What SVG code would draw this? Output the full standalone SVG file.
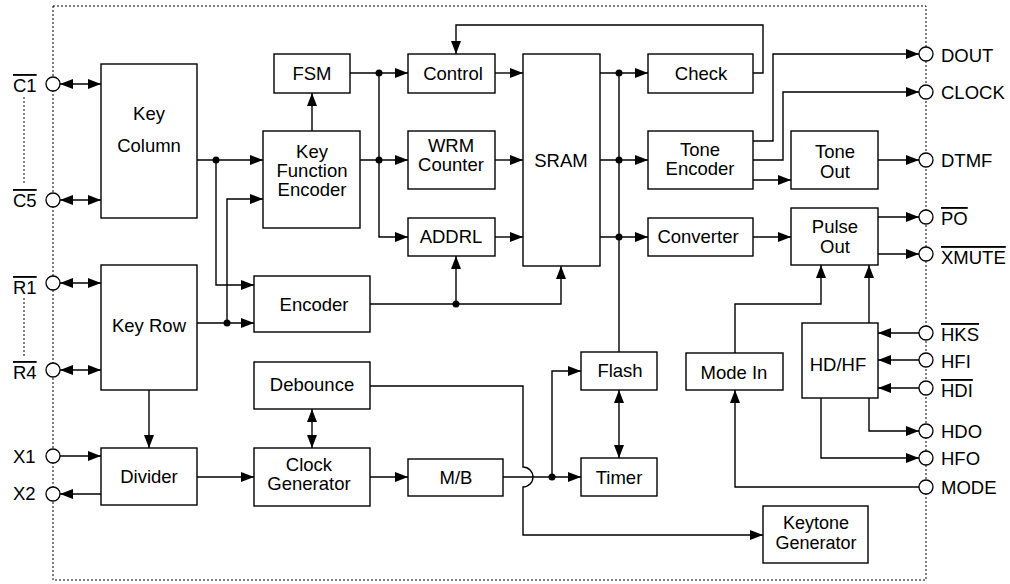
<svg xmlns="http://www.w3.org/2000/svg" width="1010" height="584" viewBox="0 0 1010 584">
<style>
.box{fill:#fff;stroke:#000;stroke-width:1.4}
.ln{fill:none;stroke:#000;stroke-width:1.4}
.a{marker-end:url(#ah)}
.d{marker-start:url(#ah);marker-end:url(#ah)}
.pin{fill:#fff;stroke:#000;stroke-width:1.3}
.dot{fill:#000}
text{font-family:"Liberation Sans",Arial,sans-serif;font-size:18.5px;fill:#000}
.c{text-anchor:middle}
.ov{text-decoration:overline}
</style>
<defs>
<marker id="ah" markerUnits="userSpaceOnUse" markerWidth="14" markerHeight="11" refX="13" refY="5.5" orient="auto-start-reverse">
<path d="M0,0.5 L13,5.5 L0,10.5 z" fill="#000"/>
</marker>
</defs>
<rect x="53" y="6" width="873" height="574" fill="none" stroke="#000" stroke-width="1" stroke-dasharray="2,2"/>
<g id="connectors">
<path class="ln d" d="M60,84 H101"/>
<path class="ln d" d="M60,200 H101"/>
<path class="ln d" d="M60,283 H101"/>
<path class="ln d" d="M60,370 H101"/>
<path class="ln a" d="M60,456 H101"/>
<path class="ln a" d="M101,494 H60"/>
<path class="ln a" d="M197,160 H263"/>
<path class="ln a" d="M216,160 V285 H254"/>
<path class="ln a" d="M197,323 H254"/>
<path class="ln a" d="M227,323 V199 H263"/>
<path class="ln a" d="M149,390 V448"/>
<path class="ln a" d="M197,477 H254"/>
<path class="ln a" d="M312,131 V93"/>
<path class="ln a" d="M350,73 H408"/>
<path class="ln a" d="M360,160 H408"/>
<path class="ln a" d="M379,73 V237 H408"/>
<path class="ln a" d="M495,73 H523"/>
<path class="ln a" d="M495,160 H523"/>
<path class="ln a" d="M495,237 H523"/>
<path class="ln a" d="M370,304 H561 V266"/>
<path class="ln a" d="M456,304 V256"/>
<path class="ln a" d="M600,73 H648"/>
<path class="ln a" d="M600,160 H648"/>
<path class="ln a" d="M600,237 H648"/>
<path class="ln" d="M619,73 V352"/>
<path class="ln a" d="M753,73 H763 V25 H456 V54"/>
<path class="ln a" d="M753,141 H773 V54 H919"/>
<path class="ln a" d="M753,160 H783 V92 H919"/>
<path class="ln a" d="M753,180 H791"/>
<path class="ln a" d="M878,160 H919"/>
<path class="ln a" d="M753,237 H791"/>
<path class="ln a" d="M878,217 H919"/>
<path class="ln a" d="M878,254 H919"/>
<path class="ln a" d="M869,323 V265"/>
<path class="ln a" d="M735,353 V304 H821 V265"/>
<path class="ln a" d="M919,333 H878"/>
<path class="ln a" d="M919,360 H878"/>
<path class="ln a" d="M919,388 H878"/>
<path class="ln a" d="M869,398 V431 H919"/>
<path class="ln a" d="M821,398 V458 H919"/>
<path class="ln a" d="M919,487 H735 V390"/>
<path class="ln d" d="M312,409 V448"/>
<path class="ln a" d="M370,477 H408"/>
<path class="ln a" d="M503,477 H581"/>
<path class="ln a" d="M552,477 V371 H581"/>
<path class="ln a" d="M370,386 H523 V467 A10,10 0 0 1 523,487 V535 H763"/>
<path class="ln d" d="M619,390 V458"/>
<circle class="dot" cx="216" cy="160" r="3.5"/>
<circle class="dot" cx="227" cy="323" r="3.5"/>
<circle class="dot" cx="379" cy="73" r="3.5"/>
<circle class="dot" cx="379" cy="160" r="3.5"/>
<circle class="dot" cx="456" cy="304" r="3.5"/>
<circle class="dot" cx="619" cy="73" r="3.5"/>
<circle class="dot" cx="619" cy="160" r="3.5"/>
<circle class="dot" cx="619" cy="237" r="3.5"/>
<circle class="dot" cx="552" cy="477" r="3.5"/>
<line x1="24" y1="97" x2="24" y2="183" stroke="#000" stroke-width="1" stroke-dasharray="2,2"/>
<line x1="24" y1="298" x2="24" y2="358" stroke="#000" stroke-width="1" stroke-dasharray="2,2"/>
</g>
<g id="pins">
<circle class="pin" cx="53" cy="84" r="7"/>
<circle class="pin" cx="53" cy="200" r="7"/>
<circle class="pin" cx="53" cy="283" r="7"/>
<circle class="pin" cx="53" cy="370" r="7"/>
<circle class="pin" cx="53" cy="456" r="7"/>
<circle class="pin" cx="53" cy="494" r="7"/>
<circle class="pin" cx="926" cy="54" r="7"/>
<circle class="pin" cx="926" cy="92" r="7"/>
<circle class="pin" cx="926" cy="160" r="7"/>
<circle class="pin" cx="926" cy="217" r="7"/>
<circle class="pin" cx="926" cy="254" r="7"/>
<circle class="pin" cx="926" cy="333" r="7"/>
<circle class="pin" cx="926" cy="360" r="7"/>
<circle class="pin" cx="926" cy="388" r="7"/>
<circle class="pin" cx="926" cy="431" r="7"/>
<circle class="pin" cx="926" cy="458" r="7"/>
<circle class="pin" cx="926" cy="487" r="7"/>
<text x="13" y="92" class="ov">C1</text>
<text x="13" y="207" class="ov">C5</text>
<text x="13" y="294" class="ov">R1</text>
<text x="13" y="379" class="ov">R4</text>
<text x="13" y="463" >X1</text>
<text x="13" y="500">X2</text>
<text x="941" y="62">DOUT</text>
<text x="941" y="99">CLOCK</text>
<text x="941" y="167">DTMF</text>
<text x="941" y="225" class="ov">PO</text>
<text x="941" y="264" class="ov">XMUTE</text>
<text x="941" y="341" class="ov">HKS</text>
<text x="941" y="368">HFI</text>
<text x="941" y="397" class="ov">HDI</text>
<text x="941" y="438">HDO</text>
<text x="941" y="465">HFO</text>
<text x="941" y="494">MODE</text>
</g>
<g id="key-column"><rect class="box" x="101" y="64" width="96" height="154"/><text class="c" x="149" y="120">Key</text><text class="c" x="149" y="152">Column</text></g>
<g id="key-row"><rect class="box" x="101" y="265" width="96" height="125"/><text class="c" x="149" y="332">Key Row</text></g>
<g id="divider"><rect class="box" x="101" y="448" width="96" height="57"/><text class="c" x="149" y="483">Divider</text></g>
<g id="kfe"><rect class="box" x="263" y="131" width="97" height="97"/><text class="c" x="312" y="158">Key</text><text class="c" x="312" y="177">Function</text><text class="c" x="312" y="196">Encoder</text></g>
<g id="fsm"><rect class="box" x="274" y="54" width="76" height="39"/><text class="c" x="312" y="80">FSM</text></g>
<g id="encoder"><rect class="box" x="254" y="276" width="116" height="56"/><text class="c" x="314" y="311">Encoder</text></g>
<g id="control"><rect class="box" x="408" y="54" width="87" height="39"/><text class="c" x="453" y="80">Control</text></g>
<g id="wrm"><rect class="box" x="408" y="131" width="87" height="58"/><text class="c" x="451" y="152">WRM</text><text class="c" x="451" y="171">Counter</text></g>
<g id="addrl"><rect class="box" x="408" y="218" width="87" height="38"/><text class="c" x="451" y="243">ADDRL</text></g>
<g id="sram"><rect class="box" x="523" y="54" width="77" height="212"/><text class="c" x="561" y="167">SRAM</text></g>
<g id="check"><rect class="box" x="648" y="54" width="105" height="39"/><text class="c" x="701" y="80">Check</text></g>
<g id="tone-encoder"><rect class="box" x="648" y="131" width="105" height="58"/><text class="c" x="700" y="156">Tone</text><text class="c" x="700" y="175">Encoder</text></g>
<g id="converter"><rect class="box" x="648" y="218" width="105" height="38"/><text class="c" x="698" y="243">Converter</text></g>
<g id="tone-out"><rect class="box" x="791" y="131" width="87" height="58"/><text class="c" x="835" y="158">Tone</text><text class="c" x="835" y="178">Out</text></g>
<g id="pulse-out"><rect class="box" x="791" y="208" width="87" height="57"/><text class="c" x="835" y="233">Pulse</text><text class="c" x="835" y="253">Out</text></g>
<g id="hdhf"><rect class="box" x="802" y="323" width="76" height="75"/><text class="c" x="838" y="371">HD/HF</text></g>
<g id="mode-in"><rect class="box" x="686" y="353" width="97" height="37"/><text class="c" x="734" y="379">Mode In</text></g>
<g id="flash"><rect class="box" x="581" y="352" width="76" height="38"/><text class="c" x="620" y="377">Flash</text></g>
<g id="timer"><rect class="box" x="581" y="458" width="76" height="38"/><text class="c" x="619" y="484">Timer</text></g>
<g id="debounce"><rect class="box" x="254" y="362" width="116" height="47"/><text class="c" x="312" y="391">Debounce</text></g>
<g id="clock-generator"><rect class="box" x="254" y="448" width="116" height="58"/><text class="c" x="309" y="471">Clock</text><text class="c" x="309" y="490">Generator</text></g>
<g id="mb"><rect class="box" x="408" y="459" width="95" height="37"/><text class="c" x="456" y="484">M/B</text></g>
<g id="keytone"><rect class="box" x="763" y="506" width="105" height="57"/><text class="c" x="816" y="529" style="font-size:18px">Keytone</text><text class="c" x="816" y="549" style="font-size:18px">Generator</text></g>
</svg>
